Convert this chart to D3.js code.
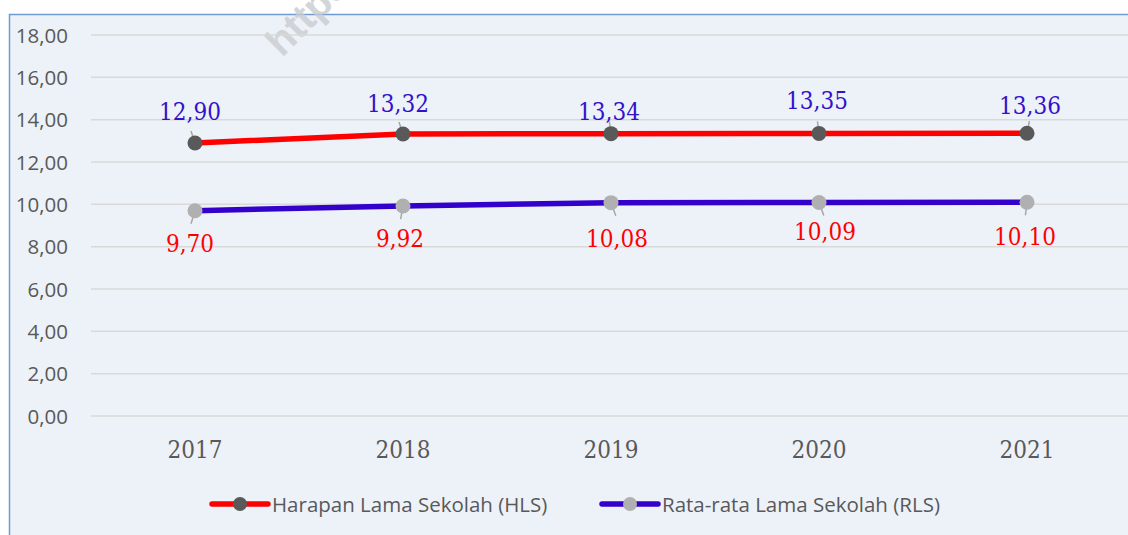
<!DOCTYPE html>
<html>
<head>
<meta charset="utf-8">
<script src="https://cdn.jsdelivr.net/npm/d3@7"></script>
<style>
  html, body { margin: 0; padding: 0; background: #ffffff; }
  svg { display: block; }
</style>
</head>
<body>
<svg id="chart" width="1128" height="535"></svg>
<script>
// Data
var years = ["2017", "2018", "2019", "2020", "2021"];
var hls = [12.90, 13.32, 13.34, 13.35, 13.36];
var rls = [9.70, 9.92, 10.08, 10.09, 10.10];
var yTicks = [0, 2, 4, 6, 8, 10, 12, 14, 16, 18];
var seriesNames = ["Harapan Lama Sekolah (HLS)", "Rata-rata Lama Sekolah (RLS)"];

// label nudges (dx, dy from the point), as placed in the original
var hlsLabelNudge = [[-5, -23], [-5, -22], [-2, -14], [-2, -24], [3, -19]];
var rlsLabelNudge = [[-5, 41], [-3, 41], [6, 44], [6, 38], [-2, 43]];

var svg = d3.select("#chart"),
    width = +svg.attr("width"),
    height = +svg.attr("height");

// Frame of the chart area
svg.append("rect")
    .attr("x", 9.5).attr("y", 14.5)
    .attr("width", width + 10).attr("height", height + 10)
    .attr("fill", "#edf2f8")
    .attr("stroke", "#6f9bd2")
    .attr("stroke-width", 1.5);

// Watermark (cut by the top edge, as in the original)
svg.append("text")
    .attr("transform", "translate(282,58) rotate(-45)")
    .attr("font-family", "Liberation Sans, sans-serif")
    .attr("font-weight", "bold")
    .attr("font-size", 40)
    .attr("fill", "#c9ccd0")
    .attr("opacity", 0.8)
    .text("https");

var x = d3.scaleBand().domain(years).range([91, 1131]);
var y = d3.scaleLinear().domain([0, 18]).range([416, 35]);
var cx = function (d, i) { return x(years[i]) + x.bandwidth() / 2; };

// Gridlines
svg.append("g").selectAll("line")
    .data(yTicks)
    .join("line")
    .attr("x1", 91).attr("x2", width)
    .attr("y1", function (d) { return y(d); })
    .attr("y2", function (d) { return y(d); })
    .attr("stroke", "#d9d9d9")
    .attr("stroke-width", 1.5);

// Y axis labels
svg.append("g").selectAll("text")
    .data(yTicks)
    .join("text")
    .attr("x", 68)
    .attr("y", function (d) { return y(d) + 7.5; })
    .attr("text-anchor", "end")
    .attr("font-family", "Open Sans, sans-serif")
    .attr("font-size", 20.5)
    .attr("fill", "#595959")
    .text(function (d) { return d3.format(".2f")(d).replace(".", ","); });

// X axis labels
svg.append("g").selectAll("text")
    .data(years)
    .join("text")
    .attr("x", function (d) { return x(d) + x.bandwidth() / 2; })
    .attr("y", 458)
    .attr("text-anchor", "middle")
    .attr("font-family", "DejaVu Serif Condensed, DejaVu Serif, serif")
    .attr("font-stretch", "condensed")
    .attr("font-size", 24)
    .attr("fill", "#595959")
    .text(function (d) { return d; });

var line = d3.line()
    .x(cx)
    .y(function (d) { return y(d); });

var series = [
    { values: hls, line: "#ff0000", marker: "#595959", label: "#3311cc", nudge: hlsLabelNudge },
    { values: rls, line: "#3300cc", marker: "#b0b0b0", label: "#ff0000", nudge: rlsLabelNudge }
];

series.forEach(function (s) {
    svg.append("path")
        .datum(s.values)
        .attr("d", line)
        .attr("fill", "none")
        .attr("stroke", s.line)
        .attr("stroke-width", 5.5);

    // leader lines from the point toward the label
    svg.append("g").selectAll("line")
        .data(s.values)
        .join("line")
        .attr("x1", cx)
        .attr("y1", function (d) { return y(d); })
        .attr("x2", function (d, i) { return cx(d, i) + s.nudge[i][0] * 0.8; })
        .attr("y2", function (d, i) {
            var dy = s.nudge[i][1];
            return y(d) + (dy < 0 ? -12 : 13);
        })
        .attr("stroke", "#a6a6a6")
        .attr("stroke-width", 1.5);

    svg.append("g").selectAll("circle")
        .data(s.values)
        .join("circle")
        .attr("cx", cx)
        .attr("cy", function (d) { return y(d); })
        .attr("r", 7.5)
        .attr("fill", s.marker);

    svg.append("g").selectAll("text")
        .data(s.values)
        .join("text")
        .attr("x", function (d, i) { return cx(d, i) + s.nudge[i][0]; })
        .attr("y", function (d, i) { return y(d) + s.nudge[i][1]; })
        .attr("text-anchor", "middle")
        .attr("font-family", "DejaVu Serif Condensed, DejaVu Serif, serif")
        .attr("font-stretch", "condensed")
        .attr("font-size", 24)
        .attr("fill", s.label)
        .text(function (d) { return d3.format(".2f")(d).replace(".", ","); });
});

// Legend
var legendX = [212, 602];
var legend = svg.append("g").selectAll("g")
    .data(series)
    .join("g")
    .attr("transform", function (d, i) { return "translate(" + legendX[i] + ",504)"; });

legend.append("line")
    .attr("x1", 0).attr("x2", 56)
    .attr("stroke", function (d) { return d.line; })
    .attr("stroke-width", 5.5)
    .attr("stroke-linecap", "round");

legend.append("circle")
    .attr("cx", 28).attr("r", 7)
    .attr("fill", function (d) { return d.marker; });

legend.append("text")
    .attr("x", 60)
    .attr("y", 7.5)
    .attr("font-family", "Open Sans, sans-serif")
    .attr("font-size", 20.5)
    .attr("fill", "#595959")
    .text(function (d, i) { return seriesNames[i]; });
</script>
</body>
</html>
